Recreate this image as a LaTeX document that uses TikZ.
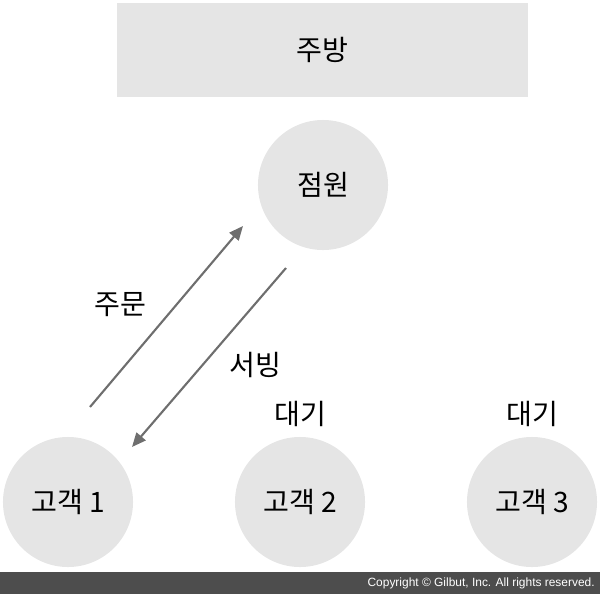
\documentclass[tikz,border=0pt]{standalone}
\usepackage{fontspec}
\setmainfont{Liberation Sans}
\newfontfamily\kofont{Noto Sans CJK KR}
\usepackage{tikz}
\definecolor{shadegray}{RGB}{229,229,229}
\definecolor{arrowgray}{RGB}{110,110,110}
\definecolor{bargray}{RGB}{77,77,77}
\usetikzlibrary{arrows.meta, positioning}

\begin{document}
\begin{tikzpicture}[x=0.025cm, y=-0.025cm,
          kitchen/.style={fill=shadegray, minimum width=10.275cm, minimum height=2.35cm,
              font=\kofont\fontsize{20}{22}\selectfont},
          person/.style={circle, fill=shadegray, minimum size=3.25cm, inner sep=0pt,
              font=\kofont\fontsize{20}{22}\selectfont},
          lbl/.style={font=\kofont\fontsize{20}{22}\selectfont, inner sep=1pt},
          arr/.style={-{Triangle[length=10pt, width=8.5pt]}, arrowgray, line width=1.5pt}
        ]
        \useasboundingbox (0,0) rectangle (600,594);
        \node[kitchen] (kitchen) at (322.5,50) {주방};
        \node[person] (staff) at (323,185) {점원};
        \node[person] (cust1) at (68,502)  {고객 1};
        \node[person] (cust2) at (300,502) {고객 2};
        \node[person] (cust3) at (532,502) {고객 3};
        \node[lbl, above=0.2cm of cust2] (wait2) {대기};
        \node[lbl, above=0.2cm of cust3] (wait3) {대기};
        % order / serving
        \coordinate (ordfrom) at (90,407);
        \coordinate (ordto)   at (243,226);
        \coordinate (srvfrom) at (286,268);
        \coordinate (srvto)   at (132,447);
        \draw[arr] (ordfrom) -- (ordto);
        \draw[arr] (srvfrom) -- (srvto);
        \node[lbl] (order) at (120,305) {주문};
        \node[lbl] (serve) at (255,365) {서빙};
        % copyright bar
        \fill[bargray] (0,572) rectangle (600,594);
        \node[anchor=east, text=white, font=\fontsize{8.5}{10}\selectfont, inner sep=0pt]
        (copy) at (595,583) {Copyright © Gilbut, Inc. All rights reserved.};
      \end{tikzpicture}
\end{document}
